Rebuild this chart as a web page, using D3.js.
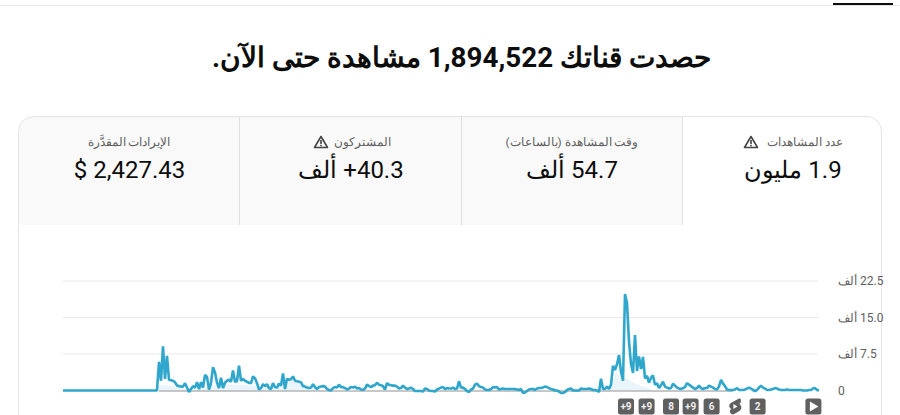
<!DOCTYPE html>
<html lang="ar" dir="rtl">
<head>
<meta charset="utf-8">
<title>Channel analytics</title>
<script src="https://d3js.org/d3.v7.min.js"></script>
<style>
 html, body { margin: 0; padding: 0; background: #fff; overflow: hidden; }
 svg { display: block; font-family: Roboto, "Noto Sans", sans-serif; direction: ltr; }
</style>
</head>
<body>
<div id="chart"></div>
<script>
// thousands of views, one value every 2px of the plot
const viewsFlat = [
 0,0,0,0,0,0,0,0,0,0,0,0,0,0,0,0,0,0,0,0,0,0,0,0,0,0,0,0,0,0,0,0,0,0,0,0,0,0,0,0,0,0,0,0,0,0,0,0
];
const viewsEarly = [
 5.9,2.0,9.1,2.4,7.1,2.2,2.1,2.0,1.7,1.0,0.9,0.8,0.8,1.5,0.6,-0.3,0.3,0.9,0.6,1.7,0.3,1.7,0.6,3.2,2.8,0.2,1.5,4.8,3.7,1.6,0.5,2.6,0.5,1.6,2.0,2.2,1.8,4.1,1.8,1.9,5.1,2.0,2.4,2.0,1.8,1.6,1.5,2.9,2.5,1.5,0.2,0.5,1.3,0.9,1.3,0.5,0.3,1.5,0.7,0.6,1.4,1.0,3.5,0.3,2.4,2.2,2.3,2.9,2.0,1.9,1.8,1.7,0.9,0.8,0.6,0.5,0.6,1.3,0.7,0.3,0.7
];
const viewsMiddle = [
 0.8,0.9,0.8,0.3,0.1,0,0.5,0.7,0.6,1.2,0.7,0.7,0.5,0.2,0.4,0.7,0.6,0.8,0.4,0.5,0.2,0.1,0.4,1.2,0.9,0.7,1.0,1.1,1.6,1.2,1.1,0.9,0.2,1.5,1.2,1.1,1.0,1.0,0.8,0.4,0.5,1.0,0.6,0.3,0.4,0.6,0.3,-0.1,-0.1,-0.1,-0.1,-0.2,0.4,0.3,0,-0.1,-0.1,-0.2,0.2,0.4,0.6,0.7,0.3,0.5,0.4,0.4,0.6,0.3,0.4,1.9,0.6,0.6,0.3,-0.1,-0.3,0.2,0.4,1.2,1.4,0.9,0.7,0.6,0.2,0.1,0.1,0.3,0.7,0.6,0.7,0.2,0.3,0.4,0.3,0.3,0.3,0.3,0.3,0.3,0.2,0.1,0.3,-0.5,-0.4,-0.1,0.2,0.3,0.3,0.1,0.4,0.5,0.5,0.6,0.8,0.7,0.5,0.3,0.2,0,0,-0.2,-0.5,-0.5,-0.3,0.1,0.3,0.4,0,0,0,0,0.4,0.3,0.3,0.3,0.4,0.3
];
const viewsPeak = [
 0.1,0.1,0,-0.3,2.4,0.3,0.3,0.8,0.3,1.2,5.1,4.2,5.4,7.3,3.8,2.0,19.8,18.0,10.0,5.5,3.6,11.4,4.0,7.0,4.4,6.9,2.5,3.0,1.6,2.6,3.1,1.2,1.5,0.5,1.1
];
const viewsLate = [
 1.8,0.8,0.6,0.4,0.5,1.4,1.0,0.6,0.4,0.3,0.5,0.7,1.5,1.2,0.9,0.6,0.3,0.5,1.0,0.5,0.3,0.5,0.5,1.0,0.8,0.6,0.3,0.2,0.8,2.2,1.4,0.9,0.2,0.1,0.1,0.1,0.2,0.5,0.1,0.1,0.1,0.2,0.4,0.6,0.4,0.1,-0.1,0.1,0.6,1.0,0.6,0.4,0.1,0.1,0.2,0.3,0.5,0.4,0.2,0.1,0.1,0.1,0.2,0.1,0.1,0.1,0.1,0.1,0.1,0.1,0,0,0,0.1,0.1,0.4,0.5,0.1,0
];
const views = [...viewsFlat, ...viewsEarly, ...viewsMiddle, ...viewsPeak, ...viewsLate];

// pale fill under the line
const fillEarly = [
 1.0,1.2,1.2,1.1,1.0,1.0,0.9,0.8,0.7,0.6,0.5,0.4,0.3,0.3,0.3,0.3,0.4,0.4,0.5,0.5,0.6,0.7,0.8,0.9,0.9,1.0,1.1,1.1,1.1,1.1,1.1,1.1,1.1,1.1,1.2,1.2,1.2,1.2,1.2,1.2,1.2,1.2,1.1,1.1,1.1,1.1,1.0,1.0,0.9,0.8,0.7,0.7,0.6,0.6,0.6,0.6,0.6,0.6,0.6,0.7,0.8,1.0,1.6,1.8,1.9,1.9,1.9,1.9,1.8,1.7,1.5,1.2,0.9,0.8,0.6,0.5,0.5,0.5,0.5,0.4,0.4
];
const fillEarlyStart = 48;
const fillPeak = [0.2,0.4,1.2,2.2,3.2,3.9,3.0,2.0,2.2,2.6,2.4,2.2,1.9,1.7,1.5,1.3,1.1,0.9,0.8,0.7,0.5,0.4,0.3];
const fillPeakStart = 272;

const yTicks = [0, 7.5, 15, 22.5];
const yLabels = ['0', '7.5 ألف', '15.0 ألف', '22.5 ألف'];

const headline = 'حصدت قناتك 1,894,522 مشاهدة حتى الآن.';
// cards, in the order they sit from left to right
const cardTitles = ['الإيرادات المقدَّرة', 'المشتركون', 'وقت المشاهدة (بالساعات)', 'عدد المشاهدات'];
const cardValues = ['2,427.43 $', '40.3+ ألف', '54.7 ألف', '1.9 مليون'];
const cardEdges = [239.5, 461.5, 682.5];
const cardTitleX = [129, 362, 572, 805];
const cardValueX = [129.5, 351, 572, 793];
const warnX = [321, 751];

const markerLabels = ['+9', '+9', '8', '+9', '6', 'shorts', '2', 'play'];
const markerPos = [281.5, 291.8, 304, 313.8, 324.3, 336, 347.3, 375.2];

const width = 900, height = 415;
const svg = d3.select('#chart').append('svg').attr('width', width).attr('height', height);

// top tab rule
svg.append('line').attr('x1', 0).attr('x2', width).attr('y1', 5.5).attr('y2', 5.5).attr('stroke', '#e5e5e5');
svg.append('rect').attr('x', 833).attr('y', 3).attr('width', 60).attr('height', 2).attr('fill', '#0d0d0d');

svg.append('text').attr('x', 461.5).attr('y', 67).attr('text-anchor', 'middle')
   .attr('direction', 'rtl').attr('font-size', 27.8).attr('font-weight', 700).attr('fill', '#0d0d0d')
   .text(headline);

// cards
const cardTop = 116.5, cardBottom = 225;
svg.append('path')
   .attr('d', 'M18.5,225V131.5a15,15 0 0 1 15,-15H682.5V225Z')
   .attr('fill', '#f9f9f9');
svg.append('path')
   .attr('d', 'M18.5,415V131.5a15,15 0 0 1 15,-15H866.5a15,15 0 0 1 15,15V415')
   .attr('fill', 'none').attr('stroke', '#e5e5e5');
cardEdges.forEach(e => {
  svg.append('line').attr('x1', e).attr('x2', e)
     .attr('y1', cardTop).attr('y2', cardBottom).attr('stroke', '#e0e0e0');
});

function warnIcon(x, y) {
  const g = svg.append('g').attr('transform', `translate(${x},${y})`);
  g.append('path').attr('d', 'M0,-5.5L6.5,5.5H-6.5Z').attr('fill', 'none').attr('stroke', '#444').attr('stroke-width', 1.6).attr('stroke-linejoin', 'round');
  g.append('rect').attr('x', -0.8).attr('y', -2).attr('width', 1.6).attr('height', 4).attr('fill', '#444');
  g.append('rect').attr('x', -0.8).attr('y', 2.8).attr('width', 1.6).attr('height', 1.5).attr('fill', '#444');
}

cardTitles.forEach((t, i) => {
  svg.append('text').attr('x', cardTitleX[i]).attr('y', 146).attr('text-anchor', 'middle')
     .attr('direction', 'rtl').attr('font-size', 11.8).attr('fill', '#606060').text(t);
  svg.append('text').attr('x', cardValueX[i]).attr('y', 178).attr('text-anchor', 'middle')
     .attr('direction', 'rtl').attr('font-size', 24).attr('fill', '#0d0d0d').text(cardValues[i]);
});
warnX.forEach(w => warnIcon(w, 142));

// chart, 2px per value
const x = d3.scaleLinear().domain([0, 377.5]).range([63, 818]);
const y = d3.scaleLinear().domain([0, 22.5]).range([390.5, 281]);

svg.append('g').selectAll('line').data(yTicks.slice(1)).join('line')
   .attr('x1', 63).attr('x2', 818).attr('y1', d => y(d)).attr('y2', d => y(d))
   .attr('stroke', '#e8e8e8');

const axis = d3.axisRight(y).tickValues(yTicks).tickSize(0).tickPadding(0)
   .tickFormat((d, i) => yLabels[i]);
const axisG = svg.append('g').attr('transform', 'translate(838,0)').call(axis);
axisG.select('.domain').remove();
axisG.selectAll('text').attr('x', 0).attr('text-anchor', 'end').attr('direction', 'rtl')
   .attr('font-family', 'Roboto, "Noto Sans", sans-serif').attr('font-size', 12).attr('fill', '#606060');

const area = d3.area().x(d => x(d[0])).y0(y(0)).y1(d => y(d[1]));
svg.append('path').attr('d', area(fillEarly.map((v, i) => [fillEarlyStart + i, v]))).attr('fill', '#e9f5fa');
svg.append('path').attr('d', area(fillPeak.map((v, i) => [fillPeakStart + i, v]))).attr('fill', '#e9f5fa');

svg.append('line').attr('x1', x(48)).attr('x2', x(335)).attr('y1', y(0) + 0.5).attr('y2', y(0) + 0.5)
   .attr('stroke', '#909090');

const line = d3.line().x((d, i) => x(i)).y(d => y(d));
svg.append('path').attr('d', line(views)).attr('fill', 'none')
   .attr('stroke', '#2fa6cc').attr('stroke-width', 2.6).attr('stroke-linejoin', 'bevel');

// annotation markers under the plot
markerLabels.forEach((m, i) => {
  const cx = x(markerPos[i]), cy = 406.5;
  if (m === 'shorts') {
    const g = svg.append('g').attr('transform', `translate(${cx},${cy}) scale(1.2)`);
    g.append('path').attr('d', 'M3,-6.5L-3.5,-3C-5.5,-1.5 -5,1 -3,2L-4,3C-5,5 -3,7 -1,6.5L4,3.5C6,2 5.5,-1 3.5,-2L4.5,-3C5.5,-5 5,-7 3,-6.5Z').attr('fill', '#606060');
    g.append('path').attr('d', 'M-1.3,-2L2,0L-1.3,2Z').attr('fill', '#fff');
    return;
  }
  svg.append('rect').attr('x', cx - 8).attr('y', cy - 8).attr('width', 16).attr('height', 16).attr('rx', 2.5).attr('fill', '#606060');
  if (m === 'play') {
    svg.append('path').attr('d', `M${cx - 3.5},${cy - 5}L${cx + 5},${cy}L${cx - 3.5},${cy + 5}Z`).attr('fill', '#fff');
  } else {
    svg.append('text').attr('x', cx).attr('y', cy + 3.5).attr('text-anchor', 'middle')
       .attr('font-size', 10).attr('font-weight', 700).attr('fill', '#eee').text(m);
  }
});
</script>
</body>
</html>
